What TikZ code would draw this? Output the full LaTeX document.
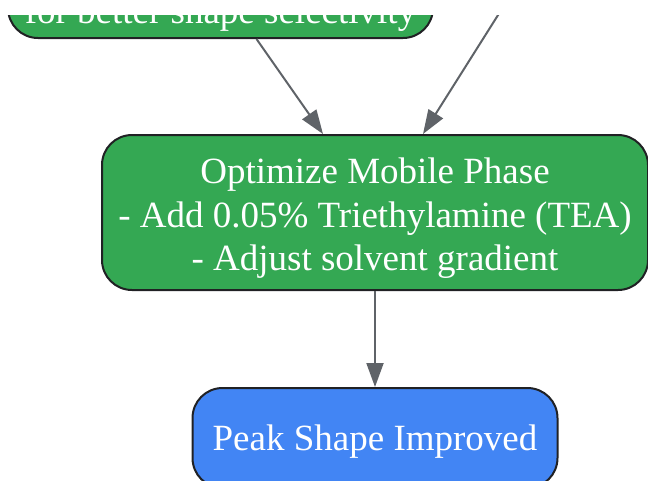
\documentclass[tikz,border=0pt]{standalone}
\usepackage{fontspec}
\setmainfont{Liberation Serif}
\usetikzlibrary{arrows.meta}
\definecolor{stepgreen}{HTML}{34A853}
\definecolor{doneblue}{HTML}{4285F4}
\definecolor{edgegray}{HTML}{5F6368}
\definecolor{rimdark}{HTML}{202124}
\begin{document}
\begin{tikzpicture}[x=1pt, y=-1pt,
        box/.style={draw=rimdark, line width=2pt, rounded corners=30pt, text=white,
            font=\fontsize{37}{43.5}\selectfont, align=center, inner sep=0pt},
        greenbox/.style={box, fill=stepgreen},
        bluebox/.style={box, fill=doneblue},
        flow/.style={draw=edgegray, line width=2pt, -{Triangle[length=24pt,width=17pt]}}]
                    \useasboundingbox (0,0) rectangle (648,480);
                    \clip (0,15) rectangle (648,480);

                    \node[greenbox, anchor=base, minimum width=425pt, text height=60pt, text depth=8pt, inner ysep=7pt]
                        at (220.5, 23) (shape) {for better shape selectivity};
                    \coordinate (other) at (517, -15);
                    \node[greenbox, minimum width=546pt, minimum height=155pt] at (375, 212.5) (mobile)
                        {\rule{0pt}{37pt}Optimize Mobile Phase\\- Add 0.05\% Triethylamine (TEA)\\- Adjust solvent gradient};
                    \node[bluebox, minimum width=365pt, minimum height=100pt, text height=33pt, text depth=8pt]
                        at (375, 438) (improved) {Peak Shape Improved};

                    \path
                        ([xshift=36pt]shape.south) edge[flow] ([xshift=-52pt]mobile.north)
                        (other) edge[flow] ([xshift=48pt]mobile.north)
                        (mobile) edge[flow] (improved);
                \end{tikzpicture}
\end{document}
